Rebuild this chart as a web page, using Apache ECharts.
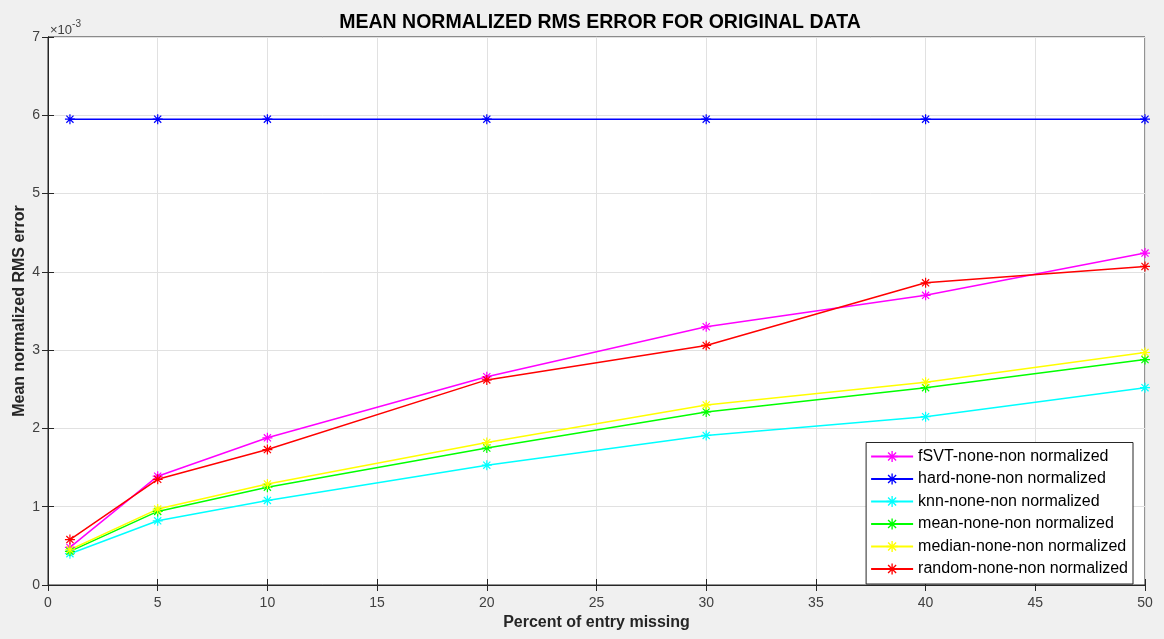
<!DOCTYPE html>
<html>
<head>
    <meta charset="utf-8">
    <title>Mean normalized RMS error</title>
    <script src="https://cdn.jsdelivr.net/npm/echarts@6/dist/echarts.min.js"></script>
</head>
<body style="margin:0;background:#f0f0f0;">
    <div id="main" style="width:1164px;height:639px;"></div>
    <script type="text/javascript">
        // percent of entries missing
        var percents = [1, 5, 10, 20, 30, 40, 50];
        // values in units of 1e-3
        var fsvtVals = [0.48, 1.39, 1.88, 2.66, 3.30, 3.70, 4.24];
        var hardVals = [5.95, 5.95, 5.95, 5.95, 5.95, 5.95, 5.95];
        var knnVals = [0.40, 0.82, 1.08, 1.53, 1.91, 2.15, 2.52];
        var meanVals = [0.43, 0.94, 1.25, 1.75, 2.21, 2.52, 2.88];
        var medianVals = [0.45, 0.97, 1.29, 1.82, 2.30, 2.59, 2.97];
        var randomVals = [0.58, 1.35, 1.73, 2.62, 3.06, 3.86, 4.07];

        var seriesNames = [
            'fSVT-none-non normalized',
            'hard-none-non normalized',
            'knn-none-non normalized',
            'mean-none-non normalized',
            'median-none-non normalized',
            'random-none-non normalized'
        ];
        var seriesVals = [fsvtVals, hardVals, knnVals, meanVals, medianVals, randomVals];
        var colors = ['#ff00ff', '#0000ff', '#00ffff', '#00ff00', '#ffff00', '#ff0000'];

        // asterisk marker like matlab '*'
        var star = 'path://M4.4,0H5.6V10H4.4Z M0,4.4H10V5.6H0Z ' +
            'M1.85,1.0L9.0,8.15L8.15,9.0L1.0,1.85Z M8.15,1.0L9.0,1.85L1.85,9.0L1.0,8.15Z';

        var chartDom = document.getElementById('main');
        var myChart = echarts.init(chartDom);

        var series = seriesNames.map(function (name, i) {
            return {
                name: name,
                type: 'line',
                data: percents.map(function (p, j) { return [p, seriesVals[i][j]]; }),
                symbol: star,
                symbolSize: 10,
                showAllSymbol: true,
                lineStyle: { color: colors[i], width: 1.5 },
                itemStyle: { color: colors[i], borderWidth: 0 },
                emphasis: { disabled: true },
                z: 3
            };
        });

        var axisCol = '#262626';
        var tickLbl = { color: '#404040', fontSize: 14, fontFamily: 'Liberation Sans' };

        var option = {
            backgroundColor: '#f0f0f0',
            animation: false,
            title: {
                text: 'MEAN NORMALIZED RMS ERROR FOR ORIGINAL DATA',
                left: 595,
                textAlign: 'center',
                top: 8,
                textStyle: { fontSize: 19.5, fontWeight: 'bold', color: '#000', fontFamily: 'Liberation Sans' }
            },
            grid: {
                left: 48, right: 19, top: 37, bottom: 54,
                show: true, backgroundColor: '#fff', borderColor: axisCol, borderWidth: 1
            },
            legend: {
                orient: 'vertical',
                right: 31,
                bottom: 55,
                itemWidth: 42,
                itemHeight: 14,
                itemGap: 6.5,
                padding: [6, 5, 7, 4],
                backgroundColor: '#fff',
                borderColor: axisCol,
                borderWidth: 1,
                borderRadius: 0,
                textStyle: { fontSize: 16, color: '#000', fontFamily: 'Liberation Sans' },
                data: seriesNames
            },
            graphic: [{
                type: 'text',
                left: 50,
                top: 19,
                style: {
                    text: '{a|×10}{b|-3}',
                    rich: {
                        a: { fontSize: 13, fill: '#404040', fontFamily: 'Liberation Sans', padding: [7, 0, 0, 0] },
                        b: { fontSize: 10, fill: '#404040', fontFamily: 'Liberation Sans', padding: [0, 0, 6, 0] }
                    }
                }
            }],
            xAxis: [{
                type: 'value',
                min: 0, max: 50, interval: 5,
                name: 'Percent of entry missing',
                nameLocation: 'middle',
                nameGap: 30,
                nameTextStyle: { fontSize: 16, fontWeight: 'bold', color: '#262626', fontFamily: 'Liberation Sans' },
                axisLine: { lineStyle: { color: axisCol } },
                axisTick: { inside: true, length: 6, lineStyle: { color: axisCol } },
                axisLabel: Object.assign({ margin: 11 }, tickLbl),
                splitLine: { show: true, lineStyle: { color: '#e1e1e1' } }
            }, {
                type: 'value', position: 'top',
                min: 0, max: 50, interval: 5,
                axisLine: { show: true, lineStyle: { color: axisCol } },
                axisTick: { show: true, inside: true, length: 6, lineStyle: { color: axisCol } },
                axisLabel: { show: false },
                splitLine: { show: false }
            }],
            yAxis: [{
                type: 'value',
                min: 0, max: 7, interval: 1,
                name: 'Mean normalized RMS error',
                nameLocation: 'middle',
                nameGap: 20,
                nameMoveOverlap: false,
                nameTextStyle: { fontSize: 16, fontWeight: 'bold', color: '#262626', fontFamily: 'Liberation Sans' },
                axisLine: { show: true, lineStyle: { color: axisCol } },
                axisTick: { show: true, inside: true, length: 6, lineStyle: { color: axisCol } },
                axisLabel: Object.assign({ margin: 8 }, tickLbl),
                splitLine: { show: true, lineStyle: { color: '#e1e1e1' } }
            }, {
                type: 'value', position: 'right',
                min: 0, max: 7, interval: 1,
                axisLine: { show: true, lineStyle: { color: axisCol } },
                axisTick: { show: true, inside: true, length: 6, lineStyle: { color: axisCol } },
                axisLabel: { show: false },
                splitLine: { show: false }
            }],
            series: series
        };

        option && myChart.setOption(option);
    </script>
</body>
</html>
